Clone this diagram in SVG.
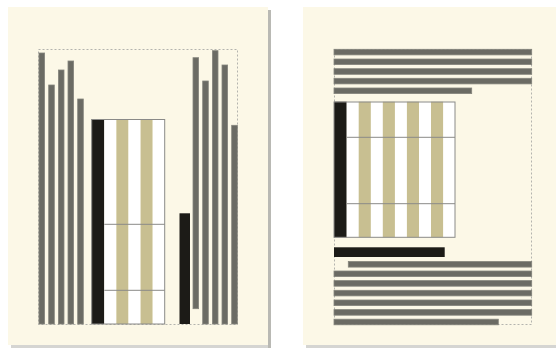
<svg xmlns="http://www.w3.org/2000/svg" width="556" height="350" viewBox="0 0 556 350">
<style>
.page{fill:#fcf8e7}
.shadow{fill:#b9b9b4}
.dash{fill:none;stroke:#b4b4ae;stroke-width:1;stroke-dasharray:2 2}
.bar{fill:#6b6b64;stroke:#85857d;stroke-width:0.8}
.blk{fill:#1c1b17}
.wht{fill:#ffffff}
.tan{fill:#c8bf91}
.grid{fill:none;stroke:#8a8a88;stroke-width:1}
</style>
<rect width="556" height="350" fill="#ffffff"/>
<g id="page-left">
  <rect class="shadow" x="268" y="10" width="3" height="338"/>
  <rect class="shadow" x="11" y="345" width="260" height="3" opacity="0.6"/>
  <rect class="page" x="8" y="7" width="260" height="338"/>
  <rect class="dash" x="38.5" y="49.5" width="199" height="275"/>
  <g id="left-bars-a">
    <rect class="bar" x="39" y="53" width="5.6" height="271"/>
    <rect class="bar" x="48.7" y="85" width="5.6" height="239"/>
    <rect class="bar" x="58.4" y="70" width="5.6" height="254"/>
    <rect class="bar" x="68" y="61" width="5.6" height="263"/>
    <rect class="bar" x="77.7" y="99" width="5.6" height="225"/>
  </g>
  <g id="left-table">
    <rect class="blk" x="91.7" y="119" width="12.6" height="205"/>
    <rect class="wht" x="104.3" y="119" width="12.1" height="205"/>
    <rect class="tan" x="116.4" y="119" width="12.1" height="205"/>
    <rect class="wht" x="128.5" y="119" width="12.1" height="205"/>
    <rect class="tan" x="140.6" y="119" width="12.1" height="205"/>
    <rect class="wht" x="152.7" y="119" width="12" height="205"/>
    <rect class="grid" x="91.7" y="119.5" width="73" height="204.5"/>
    <line class="grid" x1="104.3" y1="224.3" x2="164.7" y2="224.3"/>
    <line class="grid" x1="104.3" y1="290.3" x2="164.7" y2="290.3"/>
  </g>
  <rect id="left-black-bar" class="blk" x="179.5" y="213.3" width="10.5" height="110.7"/>
  <g id="left-bars-b">
    <rect class="bar" x="193" y="57.7" width="5.6" height="251"/>
    <rect class="bar" x="202.7" y="81" width="5.6" height="243"/>
    <rect class="bar" x="212.4" y="50.7" width="5.6" height="273.3"/>
    <rect class="bar" x="222" y="65" width="5.6" height="259"/>
    <rect class="bar" x="231.7" y="125.3" width="5.6" height="198.7"/>
  </g>
</g>
<g id="page-right">
  <rect class="shadow" x="306" y="345" width="250" height="3" opacity="0.6"/>
  <rect class="page" x="303" y="7" width="253" height="338"/>
  <rect class="dash" x="334.5" y="49.5" width="197" height="275"/>
  <g id="right-bars-top">
    <rect class="bar" x="334" y="49.3" width="197.7" height="5.6"/>
    <rect class="bar" x="334" y="59" width="197.7" height="5.6"/>
    <rect class="bar" x="334" y="68.7" width="197.7" height="5.6"/>
    <rect class="bar" x="334" y="78.3" width="197.7" height="5.6"/>
    <rect class="bar" x="334" y="88" width="137.7" height="5.6"/>
  </g>
  <g id="right-table">
    <rect class="blk" x="334" y="101.7" width="12.7" height="135.6"/>
    <rect class="wht" x="346.7" y="101.7" width="108.3" height="135.6"/>
    <rect class="tan" x="358.7" y="101.7" width="12.1" height="135.6"/>
    <rect class="tan" x="382.8" y="101.7" width="12.1" height="135.6"/>
    <rect class="tan" x="406.9" y="101.7" width="12.1" height="135.6"/>
    <rect class="tan" x="431" y="101.7" width="12.1" height="135.6"/>
    <rect class="grid" x="334" y="102" width="121" height="135.3"/>
    <line class="grid" x1="346.7" y1="137.3" x2="455" y2="137.3"/>
    <line class="grid" x1="346.7" y1="203.7" x2="455" y2="203.7"/>
  </g>
  <rect id="right-black-bar" class="blk" x="334" y="247.3" width="110.7" height="9.7"/>
  <g id="right-bars-bottom">
    <rect class="bar" x="348.3" y="261.5" width="183.4" height="5.6"/>
    <rect class="bar" x="334" y="271" width="197.7" height="5.6"/>
    <rect class="bar" x="334" y="280.6" width="197.7" height="5.6"/>
    <rect class="bar" x="334" y="290.3" width="197.7" height="5.6"/>
    <rect class="bar" x="334" y="300" width="197.7" height="5.6"/>
    <rect class="bar" x="334" y="309.6" width="197.7" height="5.6"/>
    <rect class="bar" x="334" y="319.2" width="164.3" height="5.6"/>
  </g>
</g>
</svg>
